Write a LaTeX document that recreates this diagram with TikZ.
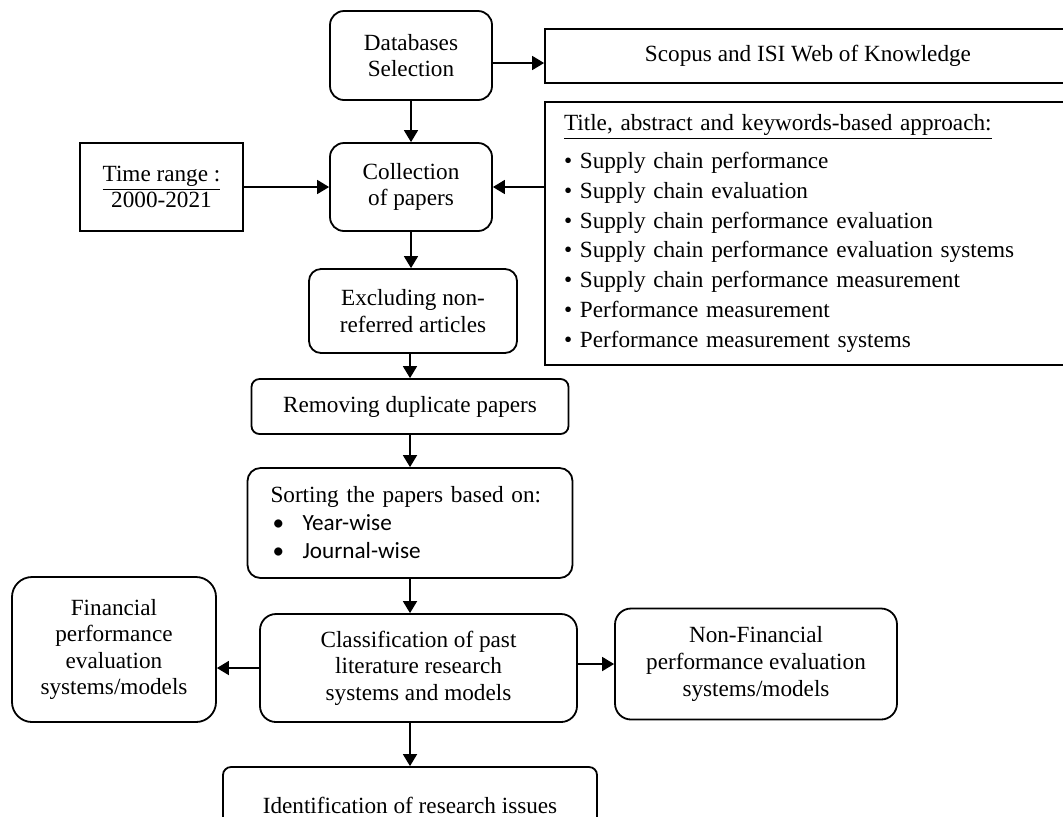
\documentclass[tikz,border=0pt]{standalone}
\usepackage{fontspec}
\setmainfont{Liberation Serif}
\newfontfamily\calib{Carlito}
\usetikzlibrary{arrows.meta}
\tikzset{
  box/.style={draw, line width=0.9pt, inner sep=0pt, align=center,
    font=\fontsize{11.6}{13.3}\selectfont},
  rbox/.style={box, rounded corners=#1},
  rbox/.default=7pt,
  arr/.style={line width=0.85pt, -{Triangle[length=6pt,width=7pt]}}
}
\begin{document}
\begin{tikzpicture}[x=0.5pt,y=-0.5pt]
\useasboundingbox (0,0) rectangle (1063,816);
\clip (0,0) rectangle (1063,816);
% nodes
\node[rbox=7pt, minimum width=81pt, minimum height=44.5pt] (db) at (411,55.5) {Databases\\Selection};
\node[box, minimum width=263pt, minimum height=27pt] (scopus) at (808,56) {Scopus and ISI Web of Knowledge};
\node[box, minimum width=263pt, minimum height=131.5pt, inner xsep=9.5pt, text width=244pt, align=left,
  font=\fontsize{11.6}{14.9}\selectfont] (title) at (808,233.5)
  {\underline{Title, abstract and keywords-based approach:}\\[4pt]
   \textbullet\ Supply chain performance\\
   \textbullet\ Supply chain evaluation\\
   \textbullet\ Supply chain performance evaluation\\
   \textbullet\ Supply chain performance evaluation systems\\
   \textbullet\ Supply chain performance measurement\\
   \textbullet\ Performance measurement\\
   \textbullet\ Performance measurement systems};
\node[box, minimum width=81.5pt, minimum height=44pt] (time) at (161.5,187) {\underline{Time range :}\\2000-2021};
\node[rbox=7pt, minimum width=81pt, minimum height=44pt] (coll) at (411,187) {Collection\\of papers};
\node[rbox=6pt, minimum width=104pt, minimum height=42pt] (excl) at (413,311) {Excluding non-\\referred articles};
\node[rbox=4pt, minimum width=158.5pt, minimum height=27.5pt] (rem) at (410,406.5) {Removing duplicate papers};
\node[rbox=6.5pt, minimum width=162.5pt, minimum height=55pt, inner xsep=11.5pt, text width=139.5pt, align=left,
  font=\fontsize{11.6}{14}\selectfont] (sort) at (410,523)
  {Sorting the papers based on:\\
   {\calib\hspace*{1pt}\makebox[15pt][l]{\textbullet}Year-wise}\\
   {\calib\hspace*{1pt}\makebox[15pt][l]{\textbullet}Journal-wise}};
\node[rbox=10pt, minimum width=102pt, minimum height=72.5pt] (fin) at (114,649.5) {Financial\\performance\\evaluation\\systems/models};
\node[rbox=8pt, minimum width=158.5pt, minimum height=54pt] (class) at (418.5,668) {Classification of past\\literature research\\systems and models};
\node[rbox=8pt, minimum width=141pt, minimum height=55.5pt] (nonfin) at (756,664) {Non-Financial\\performance evaluation\\systems/models};
\node[rbox=4pt, minimum width=187pt, minimum height=38pt] (ident) at (410,805) {Identification of research issues};
% connectors
\draw[arr] ([yshift=-3.75pt]db.east) -- ([yshift=-3.75pt]db.east -| scopus.west);
\draw[arr] (db.south) -- (db.south |- coll.north);
\draw[arr] (time.east) -- (coll.west);
\draw[arr] (title.west |- coll.east) -- (coll.east);
\draw[arr] (coll.south) -- (coll.south |- excl.north);
\draw[arr] (rem.north |- excl.south) -- (rem.north);
\draw[arr] (rem.south) -- (rem.south |- sort.north);
\draw[arr] (sort.south) -- (sort.south |- class.north);
\draw[arr] (class.west) -- (class.west -| fin.east);
\draw[arr] (class.east |- nonfin.west) -- (nonfin.west);
\draw[arr] (ident.north |- class.south) -- (ident.north);
\end{tikzpicture}
\end{document}
